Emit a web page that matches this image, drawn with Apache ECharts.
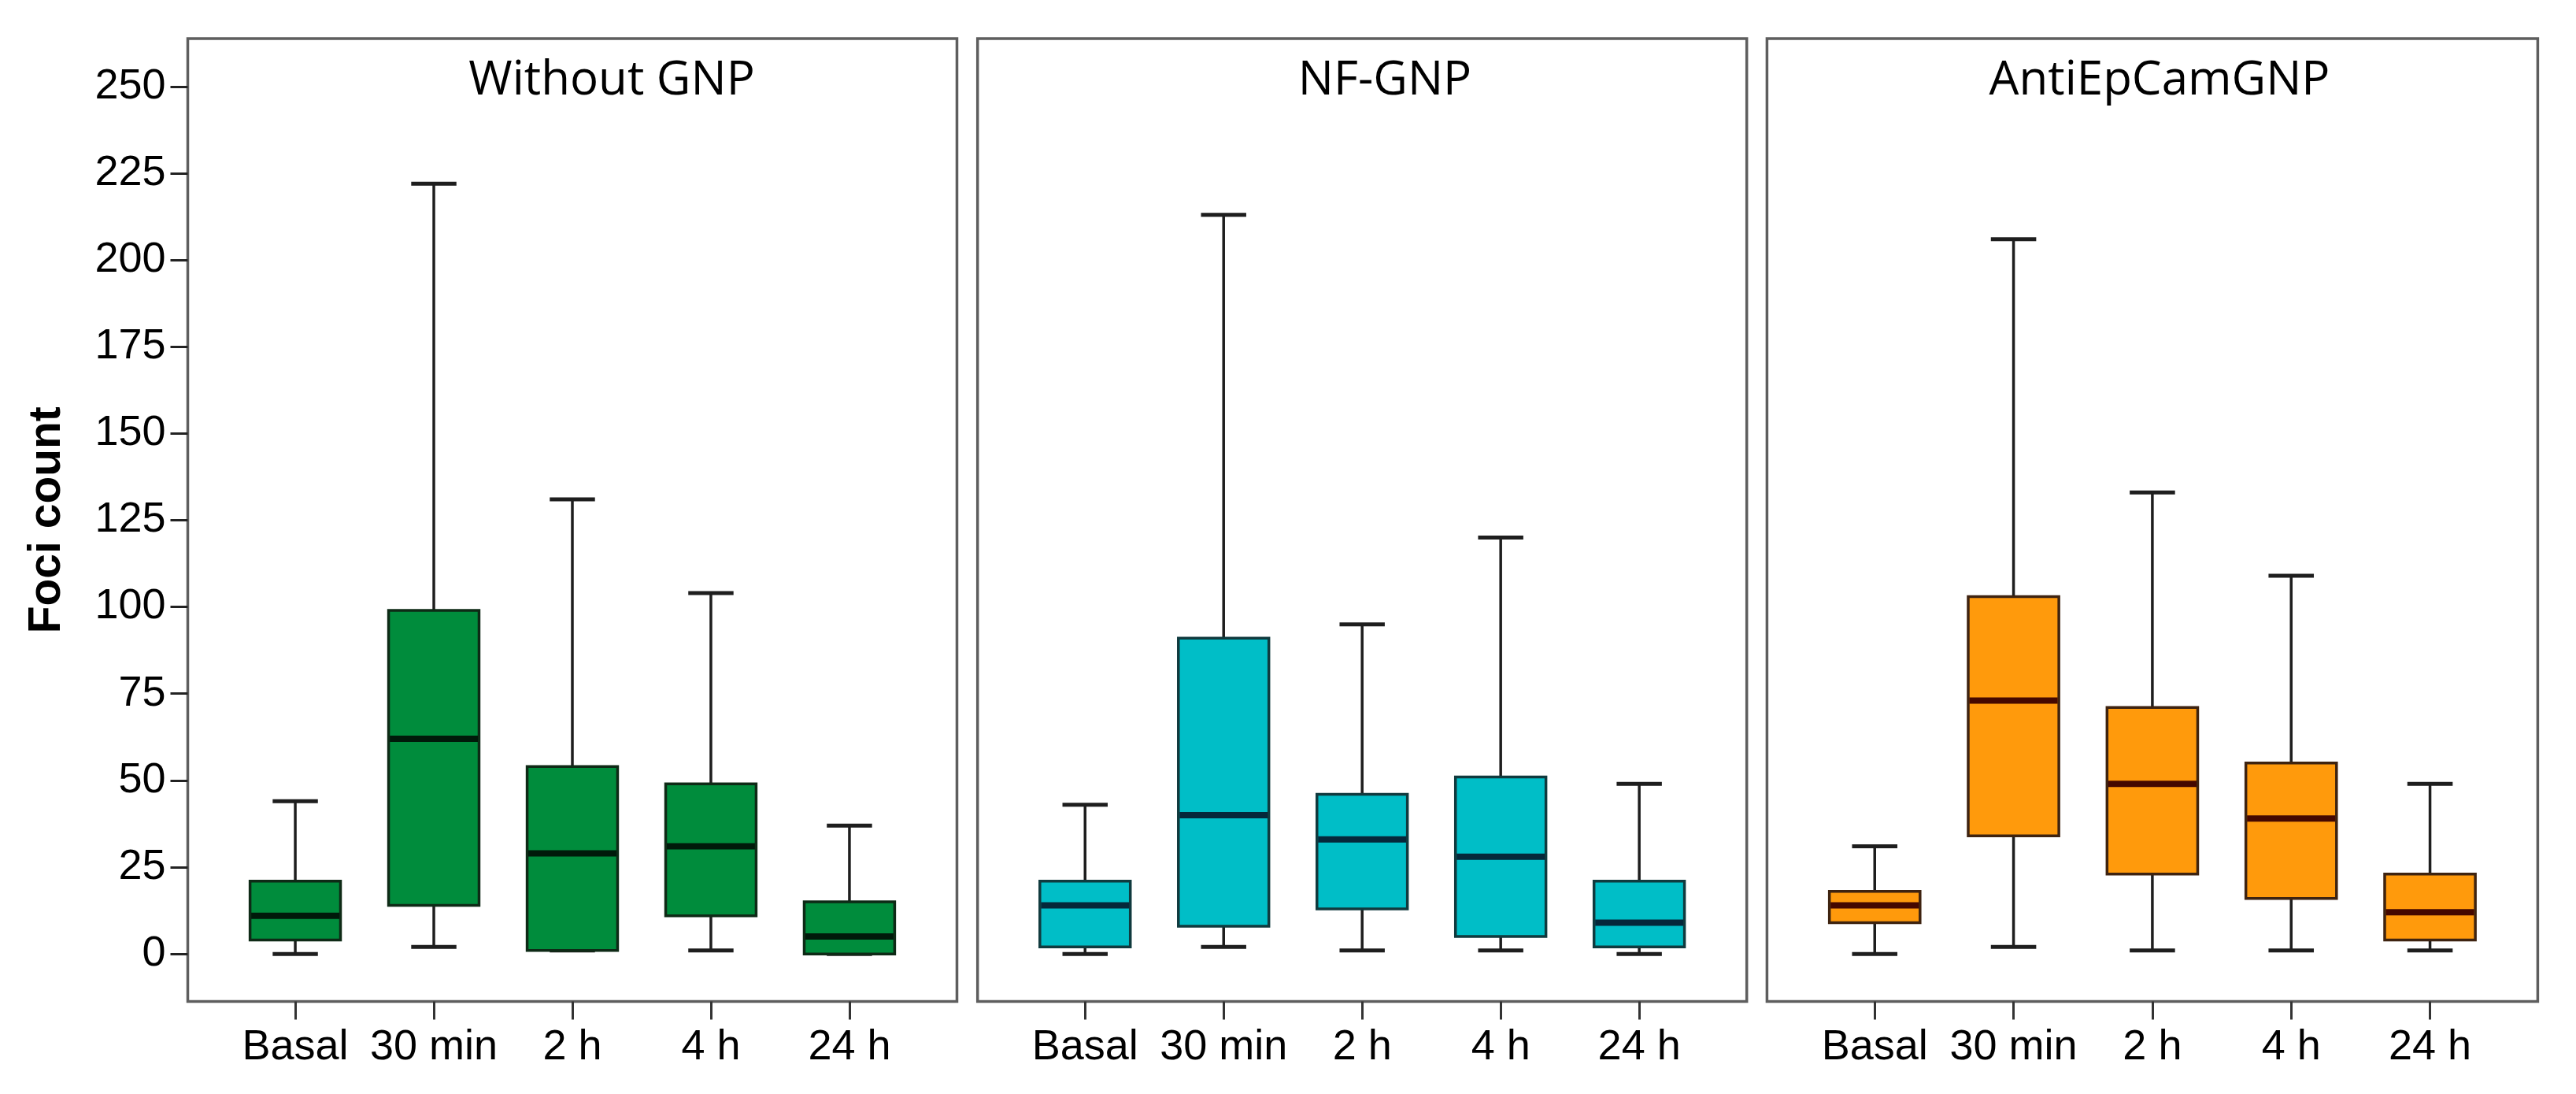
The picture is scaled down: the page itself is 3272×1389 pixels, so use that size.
<!DOCTYPE html>
<html>
<head>
<meta charset="utf-8">
<script src="https://cdn.jsdelivr.net/npm/echarts@6/dist/echarts.min.js"></script>
<style>
html, body { margin: 0; padding: 0; background: #ffffff; }
#chart { width: 3272px; height: 1389px; }
</style>
</head>
<body>
<div id="chart"></div>
<script>
// ---- data ----
const categories = ['Basal', '30 min', '2 h', '4 h', '24 h'];
const panelTitles = ['Without GNP', 'NF-GNP', 'AntiEpCamGNP'];
const yTicks = [0, 25, 50, 75, 100, 125, 150, 175, 200, 225, 250];
const catTicks = [0, 1, 2, 3, 4];
// each item: [min, Q1, median, Q3, max]
const withoutGNP   = [[0, 4, 11, 21, 44], [2, 14, 62, 99, 222], [1, 1, 29, 54, 131], [1, 11, 31, 49, 104], [0, 0, 5, 15, 37]];
const nfGNP        = [[0, 2, 14, 21, 43], [2, 8, 40, 91, 213], [1, 13, 33, 46, 95], [1, 5, 28, 51, 120], [0, 2, 9, 21, 49]];
const antiEpCamGNP = [[0, 9, 14, 18, 31], [2, 34, 73, 103, 206], [1, 23, 49, 71, 133], [1, 16, 39, 55, 109], [1, 4, 12, 23, 49]];

// ---- layout / style ----
const panels = [withoutGNP, nfGNP, antiEpCamGNP];
const gridBoxes = [
  { left: 238.5, width: 977 },
  { left: 1241.7, width: 977 },
  { left: 2244.4, width: 979 }
];
const titleCenters = [772, 1754, 2738];
const styles = [
  { fill: '#008c3c', border: '#0e2a16', median: '#001a0a' },
  { fill: '#00bec7', border: '#103a3e', median: '#05283a' },
  { fill: '#ff9a0c', border: '#3e2310', median: '#450800' }
];
const Y_MIN = -13.7, Y_MAX = 263.8;
const X_MIN = -0.776, X_MAX = 4.776;
const BOX_WIDTH = 0.653;
const CAP_RATIO = 0.5;
const LABEL_FONT = 'Liberation Sans, Arial, sans-serif';

function makeRender(st) {
  return function (params, api) {
    const x = api.value(0);
    const pMin = api.coord([x, api.value(1)]);
    const pQ1 = api.coord([x, api.value(2)]);
    const pMed = api.coord([x, api.value(3)]);
    const pQ3 = api.coord([x, api.value(4)]);
    const pMax = api.coord([x, api.value(5)]);
    const bw = api.size([BOX_WIDTH, 0])[0];
    const cw = bw * CAP_RATIO;
    const cx = pMed[0];
    const wStyle = { stroke: '#1e1e1e', lineWidth: 3.5 };
    const cStyle = { stroke: '#1e1e1e', lineWidth: 5 };
    return {
      type: 'group',
      children: [
        { type: 'line', shape: { x1: cx, y1: pQ3[1], x2: cx, y2: pMax[1] }, style: wStyle },
        { type: 'line', shape: { x1: cx, y1: pQ1[1], x2: cx, y2: pMin[1] }, style: wStyle },
        { type: 'line', shape: { x1: cx - cw / 2, y1: pMax[1], x2: cx + cw / 2, y2: pMax[1] }, style: cStyle },
        { type: 'line', shape: { x1: cx - cw / 2, y1: pMin[1], x2: cx + cw / 2, y2: pMin[1] }, style: cStyle },
        { type: 'rect', shape: { x: cx - bw / 2, y: pQ3[1], width: bw, height: pQ1[1] - pQ3[1] },
          style: { fill: st.fill, stroke: st.border, lineWidth: 3.5 } },
        { type: 'line', shape: { x1: cx - bw / 2 + 1.5, y1: pMed[1], x2: cx + bw / 2 - 1.5, y2: pMed[1] },
          style: { stroke: st.median, lineWidth: 8 } }
      ]
    };
  };
}

const grid = gridBoxes.map(g => ({
  left: g.left, width: g.width, top: 49, bottom: 117.5,
  show: true, borderColor: '#5e5e5e', borderWidth: 3.5, backgroundColor: 'transparent'
}));

const xAxis = panels.map((p, i) => ({
  type: 'value', gridIndex: i, min: X_MIN, max: X_MAX, position: 'bottom',
  axisLine: { show: false, onZero: false },
  splitLine: { show: false },
  axisTick: { show: true, customValues: catTicks, length: 23, lineStyle: { color: '#333333', width: 3 } },
  axisLabel: {
    customValues: catTicks,
    formatter: v => categories[Math.round(v)],
    fontSize: 54, fontFamily: LABEL_FONT, color: '#000000', margin: 32
  }
}));

const yAxis = panels.map((p, i) => {
  const first = i === 0;
  return {
    type: 'value', gridIndex: i, min: Y_MIN, max: Y_MAX, position: 'left',
    axisLine: { show: false, onZero: false },
    splitLine: { show: false },
    axisTick: { show: first, customValues: yTicks, length: 22, lineStyle: { color: '#222222', width: 3 } },
    axisLabel: { show: first, customValues: yTicks, fontSize: 54, fontFamily: LABEL_FONT, color: '#000000', margin: 28 },
    name: first ? 'Foci count' : '',
    nameLocation: 'middle',
    nameGap: 150,
    nameTextStyle: { fontSize: 57, fontWeight: 'bold', fontFamily: LABEL_FONT, color: '#000000' }
  };
});

const title = panelTitles.map((t, i) => ({
  text: t, left: titleCenters[i], top: 68, textAlign: 'center',
  textStyle: { fontSize: 60, fontWeight: 'normal', fontFamily: 'Open Sans, sans-serif', color: '#000000' }
}));

const series = panels.map((p, i) => ({
  type: 'custom', xAxisIndex: i, yAxisIndex: i,
  encode: { x: 0, y: [1, 2, 3, 4, 5] },
  data: p.map((s, j) => [j].concat(s)),
  renderItem: makeRender(styles[i])
}));

const chart = echarts.init(document.getElementById('chart'), null, { renderer: 'canvas' });
chart.setOption({
  animation: false,
  backgroundColor: '#ffffff',
  title, grid, xAxis, yAxis, series
});
</script>
</body>
</html>
